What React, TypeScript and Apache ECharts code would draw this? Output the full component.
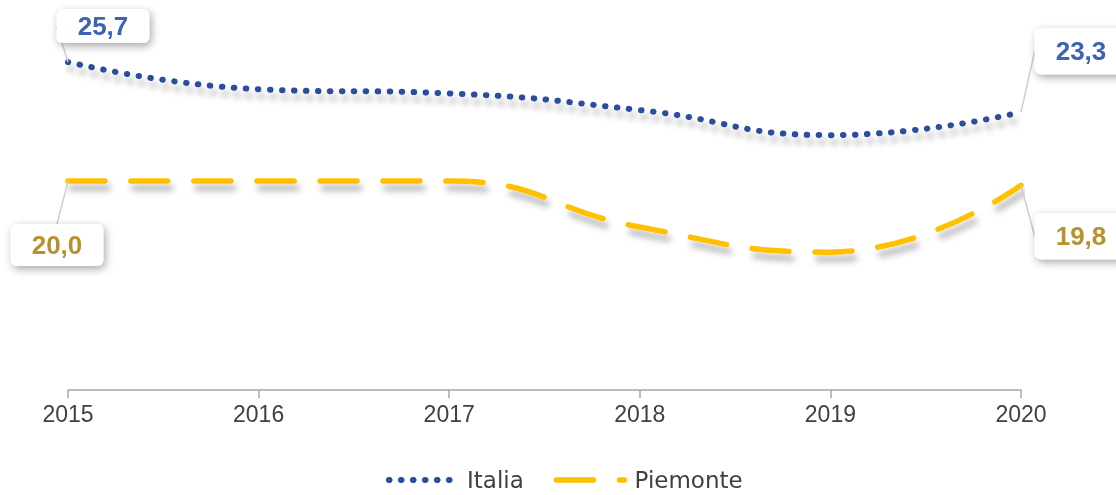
import React, { useEffect, useRef } from "react";
import * as echarts from "echarts";

const years = ["2015", "2016", "2017", "2018", "2019", "2020"];
const italia = [25.7, 24.4, 24.2, 23.4, 22.2, 23.3];
const piemonte = [20.0, 20.0, 20.0, 17.8, 16.6, 19.8];

const ITALIA_LINE = "#2A4E9E";
const ITALIA_LABEL = "#3B64B4";
const PIEMONTE_LINE = "#FFC000";
const PIEMONTE_LABEL = "#B8902C";

// callout offsets (style only): [seriesIndex][dataIndex] -> [dx, dy, padV]
const CALLOUTS: Record<number, Record<number, [number, number, number]>> = {
  0: { 0: [35, -36, 4], 5: [60, -61, 10] },
  1: { 0: [-11, 64, 8], 5: [60, 51, 10] },
};

const fmt = (v: number) => v.toFixed(1).replace(".", ",");

function withLabels(values: number[], seriesIndex: number, color: string) {
  return values.map((v, i) => {
    const c = CALLOUTS[seriesIndex][i];
    if (!c) return v;
    return {
      value: v,
      label: {
        show: true,
        position: "inside",
        formatter: () => fmt(v),
        color,
        fontFamily: "Liberation Sans",
        fontWeight: "bold",
        fontSize: 26,
        lineHeight: 26,
        backgroundColor: "#ffffff",
        borderRadius: 6,
        padding: [c[2], 21],
        shadowColor: "rgba(0,0,0,0.35)",
        shadowBlur: 8,
        shadowOffsetX: 2,
        shadowOffsetY: 3,
      },
    };
  });
}

export default function App() {
  const ref = useRef<HTMLDivElement>(null);
  useEffect(() => {
    if (!ref.current) return;
    const chart = echarts.init(ref.current, undefined, { renderer: "svg" });
    const lineShadow = {
      shadowColor: "rgba(0,0,0,0.3)",
      shadowBlur: 6,
      shadowOffsetX: 3,
      shadowOffsetY: 7,
    };
    const layout = (p: any) => {
      const c = CALLOUTS[p.seriesIndex]?.[p.dataIndex];
      return c ? { dx: c[0], dy: c[1] } : {};
    };
    chart.setOption({
      animation: false,
      grid: { left: 68, right: 95, top: 14, bottom: 105 },
      xAxis: {
        type: "category",
        data: years,
        boundaryGap: false,
        axisLine: { lineStyle: { color: "#A6A6A6", width: 1.5 } },
        axisTick: { show: true, length: 8, lineStyle: { color: "#A6A6A6", width: 1.5 } },
        axisLabel: {
          color: "#404040",
          fontFamily: "Liberation Sans",
          fontSize: 23,
          margin: 12,
        },
        splitLine: { show: false },
      },
      yAxis: {
        type: "value",
        min: 10,
        max: 28,
        show: false,
        splitLine: { show: false },
      },
      legend: {
        left: 381,
        top: 463,
        itemWidth: 68,
        itemHeight: 20,
        itemGap: 30,
        itemStyle: { opacity: 0 },
        lineStyle: { width: "inherit" },
        textStyle: {
          color: "#404040",
          fontFamily: "DejaVu Sans",
          fontSize: 23,
          lineHeight: 24,
          padding: [0, 0, 0, 5],
        },
        data: ["Italia", "Piemonte"],
      },
      series: [
        {
          name: "Italia",
          type: "line",
          smooth: true,
          symbol: "circle",
          symbolSize: 0,
          showSymbol: true,
          itemStyle: { color: ITALIA_LINE },
          lineStyle: {
            color: ITALIA_LINE,
            width: 6,
            type: [0.5, 11.5],
            cap: "round",
            ...lineShadow,
          },
          label: { show: false },
          labelLine: { show: true, lineStyle: { color: "#cfcfcf", width: 1.5 } },
          labelLayout: layout,
          data: withLabels(italia, 0, ITALIA_LABEL),
          z: 3,
        },
        {
          name: "Piemonte",
          type: "line",
          smooth: true,
          symbol: "circle",
          symbolSize: 0,
          showSymbol: true,
          itemStyle: { color: PIEMONTE_LINE },
          lineStyle: {
            color: PIEMONTE_LINE,
            width: 5.5,
            type: [37, 26],
            cap: "round",
            ...lineShadow,
          },
          label: { show: false },
          labelLine: { show: true, lineStyle: { color: "#cfcfcf", width: 1.5 } },
          labelLayout: layout,
          data: withLabels(piemonte, 1, PIEMONTE_LABEL),
          z: 2,
        },
      ],
    });
    return () => chart.dispose();
  }, []);
  return (
    <div
      ref={ref}
      style={{ position: "fixed", left: 0, top: 0, width: 1116, height: 495 }}
    />
  );
}
